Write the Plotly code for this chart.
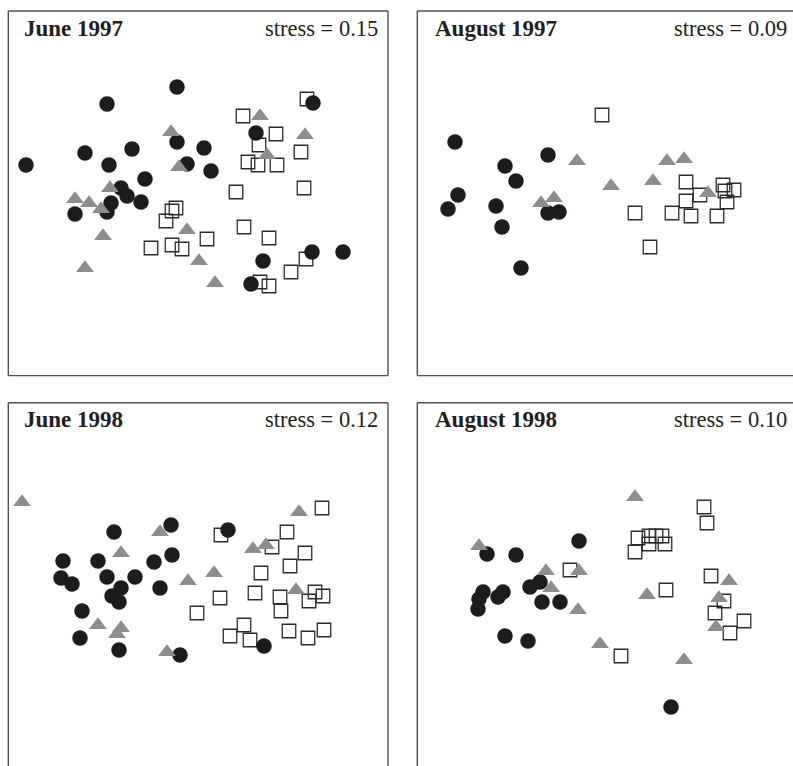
import plotly.graph_objects as go

# ---------------- data (NMDS ordination coordinates) ----------------
panel_titles = ["June 1997", "August 1997", "June 1998", "August 1998"]
stress_values = [0.15, 0.09, 0.12, 0.10]

# June 1997
jun97_circle_x = [-0.21, -0.91, 1.15, 0.58, -0.21, 0.06, -0.66, -1.13, -1.72, -0.89, -0.11, 0.13,
                  -0.53, -0.77, -0.71, -0.57, -0.87, -0.91, -1.23, 0.65, 1.14, 1.45, 0.53]
jun97_circle_y = [1.06, 0.89, 0.90, 0.60, 0.51, 0.45, 0.44, 0.40, 0.28, 0.28, 0.29, 0.22,
                  0.14, 0.05, -0.03, -0.09, -0.10, -0.19, -0.21, -0.68, -0.59, -0.59, -0.91]
jun97_tri_x = [0.62, 1.07, -0.27, 0.69, -0.19, -0.88, -1.23, -1.09, -0.97, -0.95, -0.11, -1.13, 0.01, 0.17]
jun97_tri_y = [0.77, 0.58, 0.61, 0.38, 0.26, 0.05, -0.06, -0.10, -0.16, -0.43, -0.37, -0.75, -0.68, -0.90]
jun97_sq_x = [1.09, 0.45, 0.78, 0.61, 1.03, 0.50, 0.60, 0.79, 1.06, 0.38, -0.22, -0.26, -0.32, 0.46,
              0.09, 0.71, -0.47, -0.26, -0.16, 1.08, 0.93, 0.62, 0.71]
jun97_sq_y = [0.94, 0.77, 0.59, 0.48, 0.41, 0.31, 0.28, 0.28, 0.05, 0.01, -0.15, -0.18, -0.28, -0.34,
              -0.46, -0.45, -0.55, -0.52, -0.56, -0.66, -0.79, -0.89, -0.93]

# August 1997
aug97_circle_x = [-1.52, -0.59, -1.02, -0.91, -1.49, -1.59, -1.11, -0.59, -0.48, -1.05, -0.86]
aug97_circle_y = [0.51, 0.38, 0.27, 0.12, -0.02, -0.16, -0.13, -0.20, -0.19, -0.34, -0.75]
aug97_tri_x = [-0.30, 0.60, 0.77, 0.04, 0.46, -0.53, -0.66, 1.01]
aug97_tri_y = [0.32, 0.32, 0.34, 0.07, 0.12, -0.05, -0.10, 0.00]
aug97_sq_x = [-0.05, 0.79, 1.16, 1.27, 0.93, 1.18, 0.79, 1.20, 0.28, 0.65, 0.84, 1.10, 0.43]
aug97_sq_y = [0.78, 0.11, 0.08, 0.03, -0.02, 0.02, -0.08, -0.09, -0.20, -0.20, -0.23, -0.23, -0.54]

# June 1998
jun98_circle_x = [-0.27, -0.84, 0.30, -0.26, -1.35, -1.00, -0.44, -1.37, -0.91, -0.63, -1.26, -0.77,
                  -0.38, -0.86, -0.79, -1.16, -1.18, -0.79, -0.18, 0.66]
jun98_circle_y = [0.60, 0.53, 0.55, 0.30, 0.24, 0.24, 0.23, 0.07, 0.08, 0.08, 0.01, -0.03,
                  -0.03, -0.11, -0.17, -0.26, -0.53, -0.65, -0.70, -0.61]
jun98_tri_x = [-1.76, 1.01, -0.38, -0.77, 0.55, 0.68, 0.16, -0.10, 0.98, -1.00, -0.77, -0.81, -0.31]
jun98_tri_y = [0.83, 0.73, 0.53, 0.32, 0.36, 0.40, 0.12, 0.04, -0.05, -0.40, -0.43, -0.49, -0.67]
jun98_sq_x = [1.24, 0.23, 0.89, 0.74, 1.07, 0.92, 0.63, 0.22, 0.57, 0.82, 1.17, 1.25, 1.11, -0.01,
              0.83, 0.46, 0.32, 0.52, 0.91, 1.10, 1.26]
jun98_sq_y = [0.77, 0.50, 0.53, 0.38, 0.32, 0.19, 0.12, -0.13, -0.08, -0.12, -0.07, -0.11, -0.16, -0.28,
              -0.26, -0.40, -0.51, -0.55, -0.46, -0.53, -0.45]

# August 1998
aug98_circle_x = [-0.28, -1.20, -0.91, -0.67, -0.77, -1.24, -1.04, -1.09, -1.28, -0.65, -0.47, -1.29,
                  -1.02, -0.79, 0.64]
aug98_circle_y = [0.44, 0.31, 0.30, 0.03, -0.02, -0.07, -0.07, -0.12, -0.14, -0.17, -0.17, -0.24,
                  -0.51, -0.56, -1.22]
aug98_tri_x = [0.28, -1.28, -0.61, -0.28, -0.56, 1.22, 0.40, 1.12, -0.29, 1.09, -0.07, 0.77]
aug98_tri_y = [0.88, 0.39, 0.14, 0.14, -0.03, 0.04, -0.10, -0.13, -0.25, -0.42, -0.59, -0.75]
aug98_sq_x = [0.97, 1.00, -0.37, 0.31, 0.42, 0.49, 0.55, 0.42, 0.58, 0.28, 1.04, 0.59, 1.17, 1.08,
              1.37, 1.23, 0.14]
aug98_sq_y = [0.78, 0.62, 0.15, 0.47, 0.49, 0.49, 0.49, 0.41, 0.41, 0.33, 0.09, -0.05, -0.16, -0.28,
              -0.36, -0.48, -0.71]

panels = [
    (jun97_sq_x, jun97_sq_y, jun97_circle_x, jun97_circle_y, jun97_tri_x, jun97_tri_y),
    (aug97_sq_x, aug97_sq_y, aug97_circle_x, aug97_circle_y, aug97_tri_x, aug97_tri_y),
    (jun98_sq_x, jun98_sq_y, jun98_circle_x, jun98_circle_y, jun98_tri_x, jun98_tri_y),
    (aug98_sq_x, aug98_sq_y, aug98_circle_x, aug98_circle_y, aug98_tri_x, aug98_tri_y),
]

# ---------------- layout geometry ----------------
W, H = 793, 766
x_domains = [[8.3 / W, 388 / W], [417.3 / W, 1.0], [8.3 / W, 388 / W], [417.3 / W, 1.0]]
y_domains = [[1 - 375.6 / H, 1 - 11 / H], [1 - 375.6 / H, 1 - 11 / H],
             [0.0, 1 - 402.7 / H], [0.0, 1 - 402.7 / H]]
x_ranges = [[-1.897, 1.90], [-1.897, 1.86], [-1.897, 1.90], [-1.897, 1.86]]
y_ranges = [[-1.826, 1.82], [-1.826, 1.82], [-1.81, 1.823], [-1.81, 1.823]]
# which frame sides are visible: left, top, right, bottom
frame_sides = [(1, 1, 1, 1), (1, 1, 0, 1), (1, 1, 1, 0), (1, 1, 0, 0)]

CIRCLE_COL = "#1e1b1b"
TRI_COL = "#8d8d8d"
SQ_LINE = "#2b2b2b"
FRAME_COL = "#505050"

fig = go.Figure()
for i, (sx, sy, cxs, cys, tx, ty) in enumerate(panels):
    n = "" if i == 0 else str(i + 1)
    xa, ya = "x" + n, "y" + n
    fig.add_trace(go.Scatter(x=sx, y=sy, xaxis=xa, yaxis=ya, mode="markers",
                             marker=dict(symbol="square-open", size=13.5, color=SQ_LINE,
                                         line=dict(width=1.3, color=SQ_LINE)),
                             showlegend=False, hoverinfo="skip"))
    fig.add_trace(go.Scatter(x=cxs, y=cys, xaxis=xa, yaxis=ya, mode="markers",
                             marker=dict(symbol="circle", size=15.5, color=CIRCLE_COL,
                                         line=dict(width=0)),
                             showlegend=False, hoverinfo="skip"))
    fig.add_trace(go.Scatter(x=tx, y=ty, xaxis=xa, yaxis=ya, mode="markers",
                             marker=dict(symbol="triangle-up", size=15.5, color=TRI_COL,
                                         line=dict(width=0)),
                             showlegend=False, hoverinfo="skip"))

    ax = dict(domain=x_domains[i], range=x_ranges[i], showgrid=False, zeroline=False,
              showticklabels=False, ticks="", showline=False, fixedrange=True)
    ay = dict(domain=y_domains[i], range=y_ranges[i], showgrid=False, zeroline=False,
              showticklabels=False, ticks="", showline=False, fixedrange=True, anchor=xa)
    ax["anchor"] = ya
    fig.layout["xaxis" + n] = ax
    fig.layout["yaxis" + n] = ay

    xd, yd = xa + " domain", ya + " domain"
    l, t, r, b = frame_sides[i]
    segs = []
    if l: segs.append((0, 0, 0, 1))
    if t: segs.append((0, 1, 1, 1))
    if r: segs.append((1, 0, 1, 1))
    if b: segs.append((0, 0, 1, 0))
    for (x0, y0, x1, y1) in segs:
        fig.add_shape(type="line", xref=xd, yref=yd, x0=x0, y0=y0, x1=x1, y1=y1,
                      line=dict(color=FRAME_COL, width=1.4))

    title_shift = 14 if i in (0, 2) else 16
    stress_shift = -8 if i in (0, 2) else -4
    fig.add_annotation(xref=xd, yref=yd, x=0, y=1, xanchor="left", yanchor="top",
                       xshift=title_shift, yshift=-2.5, showarrow=False,
                       text=panel_titles[i],
                       font=dict(family="Liberation Serif", size=23, color="#231f20", weight="bold"))
    fig.add_annotation(xref=xd, yref=yd, x=1, y=1, xanchor="right", yanchor="top",
                       xshift=stress_shift, yshift=-2.5, showarrow=False,
                       text=f"stress = {stress_values[i]:.2f}",
                       font=dict(family="Liberation Serif", size=22.5, color="#231f20"))

fig.update_layout(width=W, height=H, margin=dict(l=0, r=0, t=0, b=0),
                  paper_bgcolor="white", plot_bgcolor="white")
fig.write_html("out.html")
